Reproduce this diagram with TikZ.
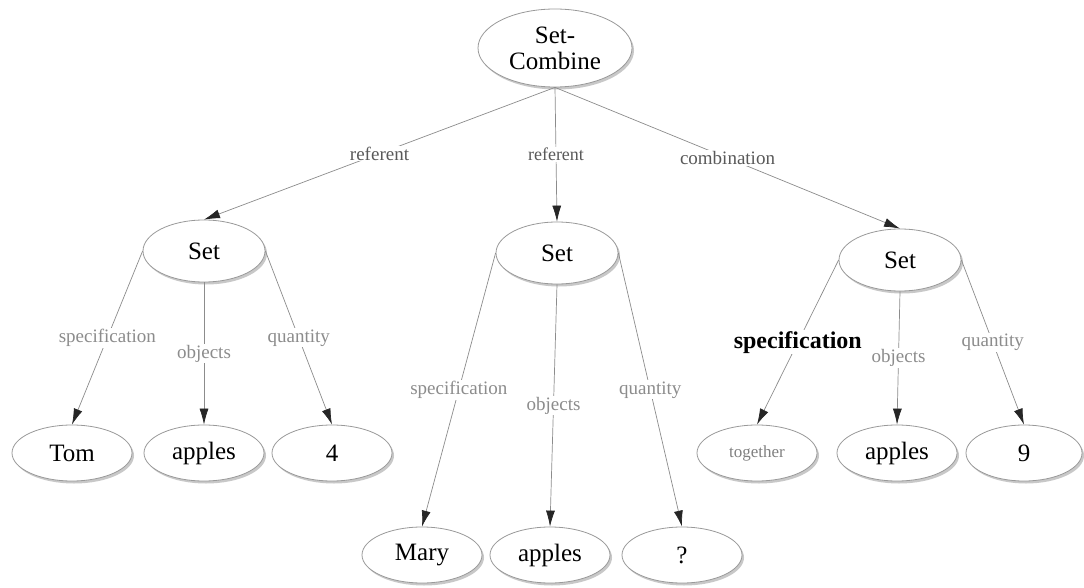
\documentclass[tikz,border=0pt]{standalone}
\usepackage{fontspec}
\setmainfont{Liberation Serif}
\usetikzlibrary{shapes.geometric,arrows.meta,shadows}
\begin{document}
\begin{tikzpicture}[x=1pt,y=-1pt,
  ell/.style={ellipse, draw=black!40, line width=0.8pt, fill=white, inner sep=0pt,
    minimum width=120pt, minimum height=56pt, text=black,
    font=\fontsize{25}{26}\selectfont,
    drop shadow={shadow xshift=2pt, shadow yshift=-2.5pt, fill=black!30, opacity=0.7}},
  setnode/.style={ell, minimum width=122pt, minimum height=62pt},
  rel/.style={draw=black!45, line width=0.7pt, -{Latex[length=16pt,width=9pt,color=black!85]}},
  lab/.style={fill=white, inner sep=1pt, text=black!45, font=\fontsize{19}{21}\selectfont},
  reflab/.style={lab, text=black!65},
  boldlab/.style={fill=white, inner sep=1pt, text=black, font=\fontsize{24}{26}\selectfont\bfseries},
  smalltext/.style={font=\fontsize{17}{19}\selectfont, text=black!50},
]
\useasboundingbox[fill=white] (0,0) rectangle (1084,588);

% nodes
\node[ell, minimum width=154pt, minimum height=78pt, align=center] (root) at (555,48) {Set-\\Combine};
\node[setnode] (s1) at (204,251) {Set};
\node[setnode] (s2) at (557,253) {Set};
\node[setnode] (s3) at (900,260) {Set};

\node[ell] (t1) at (72,453) {Tom};
\node[ell] (a1) at (204,453) {apples};
\node[ell] (q1) at (332,453) {4};

\node[ell] (t2) at (422,555) {Mary};
\node[ell] (a2) at (550,555) {apples};
\node[ell] (q2) at (682,555) {?};

\node[ell, smalltext] (t3) at (757,453) {together};
\node[ell] (a3) at (897,453) {apples};
\node[ell, minimum width=116pt] (q3) at (1024,453) {9};

% edges from root
\draw[rel] (root.south) -- node[reflab]{referent} (s1.north);
\draw[rel] (root.south) -- node[reflab, font=\fontsize{18}{20}\selectfont]{referent} (s2.north);
\draw[rel] (root.south) -- node[reflab]{combination} (s3.north);

% left set
\draw[rel] (s1.west) -- node[lab]{specification} (t1.north);
\draw[rel] (s1.south) -- node[lab]{objects} (a1.north);
\draw[rel] (s1.east) -- node[lab]{quantity} (q1.north);

% middle set
\draw[rel] (s2.west) -- node[lab]{specification} (t2.north);
\draw[rel] (s2.south) -- node[lab]{objects} (a2.north);
\draw[rel] (s2.east) -- node[lab]{quantity} (q2.north);

% right set
\draw[rel] (s3.west) -- node[boldlab]{specification} (t3.north);
\draw[rel] (s3.south) -- node[lab]{objects} (a3.north);
\draw[rel] (s3.east) -- node[lab]{quantity} (q3.north);
\end{tikzpicture}
\end{document}
